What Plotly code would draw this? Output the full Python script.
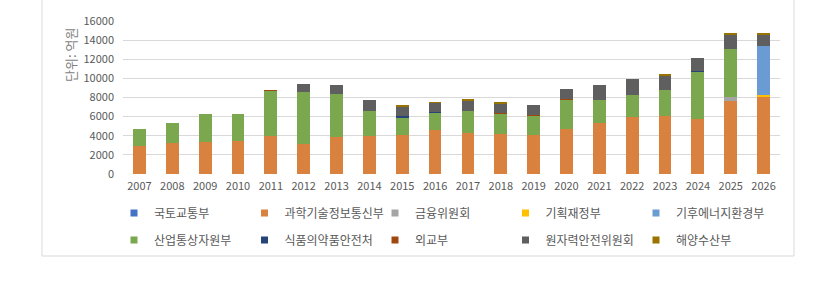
import plotly.graph_objects as go

years = [str(y) for y in range(2007, 2027)]

series_names = ["국토교통부", "과학기술정보통신부", "금융위원회", "기획재정부", "기후에너지환경부",
                "산업통상자원부", "식품의약품안전처", "외교부", "원자력안전위원회", "해양수산부"]

molit = [0]*20
msit = [2900, 3280, 3350, 3420, 3980, 3180, 3840, 3980, 4080, 4570,
        4260, 4150, 4080, 4710, 5300, 5960, 6070, 5800, 7680, 8130]
fsc = [0]*18 + [340, 0]
moef = [0]*19 + [150]
climate = [0]*19 + [5090]
motie = [1770, 2020, 2890, 2900, 4700, 5400, 4530, 2650, 1880, 1880,
         2370, 2130, 2060, 3030, 2440, 2300, 2760, 4870, 5020, 0]
mfds = [0, 0, 0, 0, 0, 0, 0, 0, 60, 60, 0, 0, 0, 0, 0, 0, 0, 60, 0, 0]
mofa = [0, 0, 0, 0, 70, 0, 0, 0, 0, 0, 0, 70, 80, 80, 0, 0, 0, 0, 0, 0]
nssc = [0, 0, 0, 0, 0, 800, 910, 1070, 1060, 920,
        1070, 1010, 1040, 1110, 1540, 1640, 1470, 1440, 1570, 1210]
mof = [0, 0, 0, 0, 0, 0, 0, 0, 70, 70, 80, 70, 0, 0, 0, 0, 100, 0, 70, 70]

series_values = [molit, msit, fsc, moef, climate, motie, mfds, mofa, nssc, mof]
colors = ["#4472C4", "#D9823F", "#A5A5A5", "#FFC000", "#6A9BD3",
          "#7BA84F", "#264478", "#9E480E", "#5F5F5F", "#997300"]

y_ticks = [0, 2000, 4000, 6000, 8000, 10000, 12000, 14000, 16000]

FONT = "Noto Sans CJK KR"

fig = go.Figure()
for i, (name, vals, col) in enumerate(zip(series_names, series_values, colors)):
    fig.add_trace(go.Bar(x=years, y=vals, name=name, marker=dict(color=col, line=dict(width=0)),
                         showlegend=False))
for i, (name, col) in enumerate(zip(series_names, colors)):
    fig.add_trace(go.Scatter(x=[None], y=[None], mode="markers", name=name,
                             marker=dict(symbol="square", size=7, color=col),
                             legend="legend" if i < 5 else "legend2"))

W, H = 817, 285
L, R, T, B = 123, 37, 21, 111
pw = W - L - R
ph = H - T - B

def px_x(x):
    return (x - L) / pw

def px_y(y):
    return (H - B - y) / ph

legend_common = dict(orientation="h", xanchor="left", yanchor="middle",
                     entrywidth=85.5, entrywidthmode="pixels", traceorder="normal",
                     font=dict(family=FONT, size=12, color="#595959"),
                     bgcolor="rgba(0,0,0,0)", borderwidth=0, itemwidth=30)

fig.update_layout(
    width=W, height=H,
    margin=dict(l=L, r=R, t=T, b=B, autoexpand=False),
    barmode="stack", bargap=0.61,
    plot_bgcolor="white", paper_bgcolor="white",
    font=dict(family=FONT, size=11, color="#595959"),
    legend=dict(x=px_x(114), y=px_y(213), **legend_common),
    legend2=dict(x=px_x(114), y=px_y(240), **legend_common),
    xaxis=dict(type="category", showgrid=False, showline=False, ticks="",
               tickfont=dict(family=FONT, size=11, color="#595959"), ticklabelstandoff=4),
    yaxis=dict(range=[0, 16000], tickvals=y_ticks, tickformat="d", showgrid=True, gridcolor="#D9D9D9",
               gridwidth=1, zeroline=False, showline=False, ticks="",
               tickfont=dict(family=FONT, size=11, color="#595959"), ticklabelstandoff=8),
    shapes=[dict(type="rect", xref="paper", yref="paper",
                 x0=px_x(42), x1=px_x(794), y0=px_y(256), y1=px_y(-10),
                 line=dict(color="#D9D9D9", width=1), fillcolor="rgba(0,0,0,0)", layer="below")],
    annotations=[dict(text="단위: 억원", xref="paper", yref="paper", x=px_x(70), y=px_y(55),
                      xanchor="center", yanchor="middle", textangle=-90, showarrow=False,
                      font=dict(family=FONT, size=13, color="#7F7F7F"))],
)

fig.write_html("out.html")
